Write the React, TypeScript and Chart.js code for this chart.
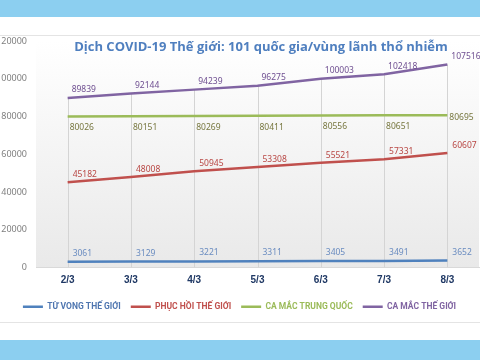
import React, { useEffect, useRef } from "react";
import { Chart, registerables } from "chart.js";

Chart.register(...registerables);

const categories = ["2/3", "3/3", "4/3", "5/3", "6/3", "7/3", "8/3"];
const deaths = [3061, 3129, 3221, 3311, 3405, 3491, 3652];
const recovered = [45182, 48008, 50945, 53308, 55521, 57331, 60607];
const chinaCases = [80026, 80151, 80269, 80411, 80556, 80651, 80695];
const worldCases = [89839, 92144, 94239, 96275, 100003, 102418, 107516];
const seriesNames = ["TỪ VONG THẾ GIỚI", "PHỤC HỒI THẾ GIỚI", "CA MẮC TRUNG QUỐC", "CA MẮC THẾ GIỚI"];
const yMin = 0;
const yMax = 120000;
const yStep = 20000;
const titleText = "Dịch COVID-19 Thế giới: 101 quốc gia/vùng lãnh thổ nhiễm";

const lineColors = ["#4f81bd", "#c0504d", "#9bbb59", "#8064a2"];
const labelColors = ["#6a8cc0", "#b84643", "#77773f", "#6f4f91"];
const legendTextColors = ["#4f76b0", "#c0504d", "#9bbb59", "#8064a2"];
const labelDy = [-8.5, -7.5, 11.5, -8];
const labelDx = [5, 5, 2, 4];

const bgPlugin = {
  id: "plotBg",
  beforeDraw(chart: any) {
    const { ctx, chartArea } = chart;
    const g = ctx.createLinearGradient(0, chartArea.top, 0, chartArea.bottom);
    g.addColorStop(0, "#ffffff");
    g.addColorStop(1, "#e9e9e9");
    ctx.save();
    ctx.fillStyle = g;
    ctx.fillRect(chartArea.left, chartArea.top, chartArea.right - chartArea.left, chartArea.bottom - chartArea.top);
    ctx.restore();
  },
  beforeDatasetsDraw(chart: any) {
    const { ctx } = chart;
    const xs = chart.scales.x;
    const ys = chart.scales.y;
    ctx.save();
    ctx.strokeStyle = "#d4d4d4";
    ctx.lineWidth = 1;
    categories.forEach((_, i) => {
      let top = -Infinity;
      chart.data.datasets.forEach((ds: any) => {
        if (ds.data[i] > top) top = ds.data[i];
      });
      const x = Math.round(xs.getPixelForValue(i)) + 0.5;
      ctx.beginPath();
      ctx.moveTo(x, ys.getPixelForValue(top));
      ctx.lineTo(x, ys.getPixelForValue(yMin));
      ctx.stroke();
    });
    ctx.restore();
  },
  afterDatasetsDraw(chart: any) {
    const { ctx } = chart;
    ctx.save();
    ctx.font = "8.5px 'Noto Sans'";
    ctx.textAlign = "left";
    ctx.textBaseline = "middle";
    chart.data.datasets.forEach((ds: any, di: number) => {
      const meta = chart.getDatasetMeta(di);
      meta.data.forEach((pt: any, i: number) => {
        let dy = labelDy[di];
        if (di === 2 && i === meta.data.length - 1) dy = 2;
        ctx.fillStyle = labelColors[di];
        ctx.fillText(String(ds.data[i]), pt.x + labelDx[di], pt.y + dy);
      });
    });
    ctx.restore();
  },
};

export default function App() {
  const ref = useRef<HTMLCanvasElement | null>(null);
  useEffect(() => {
    if (!ref.current) return;
    const series = [deaths, recovered, chinaCases, worldCases];
    const chart = new Chart(ref.current, {
      type: "line",
      data: {
        labels: categories,
        datasets: series.map((d, i) => ({
          label: seriesNames[i],
          data: d,
          borderColor: lineColors[i],
          backgroundColor: lineColors[i],
          borderWidth: 2.5,
          pointRadius: 0,
          tension: 0,
          fill: false,
        })),
      },
      options: {
        responsive: false,
        animation: false,
        layout: { padding: { top: 41, right: 1, bottom: 19, left: 0 } },
        scales: {
          x: {
            offset: true,
            grid: { display: true, drawOnChartArea: false, drawTicks: false, offset: false },
            border: { display: true, color: "#d9d9d9" },
            ticks: { color: "#1f3864", font: { family: "'Liberation Sans'", size: 10, weight: "bold" }, padding: 7 },
            afterFit: (s: any) => { s.height = 25; },
          },
          y: {
            min: yMin,
            max: yMax,
            grid: { display: false, drawTicks: false },
            border: { display: false },
            ticks: {
              stepSize: yStep,
              color: "#808080",
              font: { family: "'Noto Sans'", size: 9 },
              padding: 9,
              callback: (v: any) => String(v),
            },
            afterFit: (s: any) => { s.width = 36; },
          },
        },
        plugins: {
          title: { display: false },
          tooltip: { enabled: false },
          legend: {
            position: "bottom",
            labels: {
              usePointStyle: true,
              pointStyle: "line",
              pointStyleWidth: 20,
              padding: 10,
              font: { family: "Roboto", size: 8.5, weight: "bold" },
              generateLabels: (c: any) =>
                c.data.datasets.map((ds: any, i: number) => ({
                  text: ds.label,
                  fillStyle: lineColors[i],
                  strokeStyle: lineColors[i],
                  lineWidth: 2.5,
                  pointStyle: "line",
                  fontColor: legendTextColors[i],
                  hidden: false,
                  datasetIndex: i,
                })),
            },
          },
        },
      },
      plugins: [bgPlugin],
    });
    return () => chart.destroy();
  }, []);

  return (
    <div style={{ position: "fixed", left: 0, top: 0, width: 480, height: 360, background: "#8ccff0", overflow: "hidden" }}>
      <div style={{ position: "absolute", left: 0, top: 17, width: 480, height: 323, background: "#ffffff" }} />
      <div style={{ position: "absolute", left: 0, top: 35, width: 480, height: 288, borderTop: "1px solid #e4e4e4", borderBottom: "1px solid #e4e4e4", boxSizing: "border-box" }} />
      <canvas ref={ref} width={480} height={340} style={{ position: "absolute", left: 0, top: 0 }} />
      <div style={{ position: "absolute", left: 21, top: 37, width: 480, textAlign: "center", fontFamily: "'Open Sans'", fontWeight: "bold", fontSize: 13, lineHeight: "18px", color: "#4f7fbf", whiteSpace: "nowrap" }}>
        {titleText}
      </div>
    </div>
  );
}
